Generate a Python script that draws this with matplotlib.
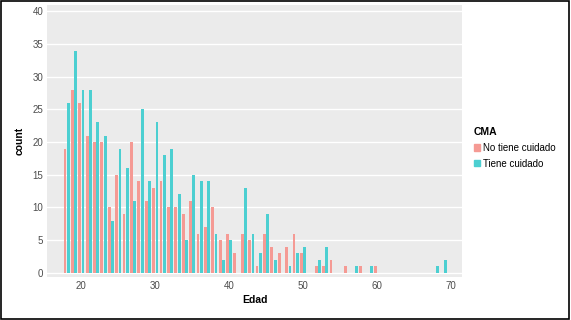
import numpy as np
import matplotlib
matplotlib.use("Agg")
import matplotlib.pyplot as plt
from matplotlib.patches import Rectangle, Patch

plt.rcParams['font.family'] = ['Liberation Sans', 'DejaVu Sans']

# edad (anos) y conteos por grupo
edad = list(range(18, 70))
no_cuidado = [19, 28, 26, 21, 20, 20, 10, 15, 9, 20, 14, 11, 13, 14, 10, 10, 9, 11, 6, 7,
              10, 5, 6, 3, 6, 5, 1, 6, 4, 3, 4, 6, 3, 0, 1, 1, 2, 0, 1, 0, 1, 0,
              1, 0, 0, 0, 0, 0, 0, 0, 0, 0]
cuidado = [26, 34, 28, 28, 23, 21, 8, 19, 16, 11, 25, 14, 23, 18, 19, 12, 5, 15, 14, 14,
           6, 2, 5, 0, 13, 6, 3, 9, 2, 0, 1, 3, 4, 0, 2, 4, 0, 0, 0, 1, 0, 1,
           0, 0, 0, 0, 0, 0, 0, 0, 1, 2]
grupos = ["No tiene cuidado", "Tiene cuidado"]
colores = ["#f59a94", "#4ccfd1"]

fig = plt.figure(figsize=(5.71, 3.2), dpi=100)
ax = fig.add_axes([0.083, 0.135, 0.726, 0.85])
ax.set_facecolor("#ebebeb")

x = np.array(edad)
w = 0.45
for vals, off, col in [(no_cuidado, -w / 2, colores[0]), (cuidado, w / 2, colores[1])]:
    v = np.array(vals)
    m = v > 0
    ax.bar(x[m] + off, v[m], width=w * 0.85, color=col, zorder=2)

ax.set_xlim(15.4, 71.5)
ax.set_ylim(-0.6, 41)
ax.set_xticks([20, 30, 40, 50, 60, 70])
ax.set_yticks(range(0, 41, 5))
ax.grid(True, axis="y", color="white", linewidth=1.0, zorder=0)
ax.set_axisbelow(True)
for s in ax.spines.values():
    s.set_visible(False)
ax.tick_params(length=0, labelsize=7, colors="#4d4d4d", pad=3)
ax.set_xlabel("Edad", fontsize=7.5, fontweight="bold", labelpad=3)
ax.set_ylabel("count", fontsize=7.5, fontweight="bold", labelpad=6)

handles = [Patch(color=c, label=g) for c, g in zip(colores, grupos)]
leg = fig.legend(handles=handles, title="CMA", loc="upper left",
                 bbox_to_anchor=(0.815, 0.63), frameon=False, fontsize=7,
                 title_fontproperties={"weight": "bold", "size": 7.5},
                 handlelength=0.6, handleheight=0.6, handletextpad=0.3,
                 labelspacing=0.6)
leg._legend_box.align = "left"

fig.patches.append(Rectangle((0.002, 0.003), 0.995, 0.994, transform=fig.transFigure,
                             fill=False, edgecolor="black", linewidth=1.2))

fig.savefig("out.png", dpi=100)
